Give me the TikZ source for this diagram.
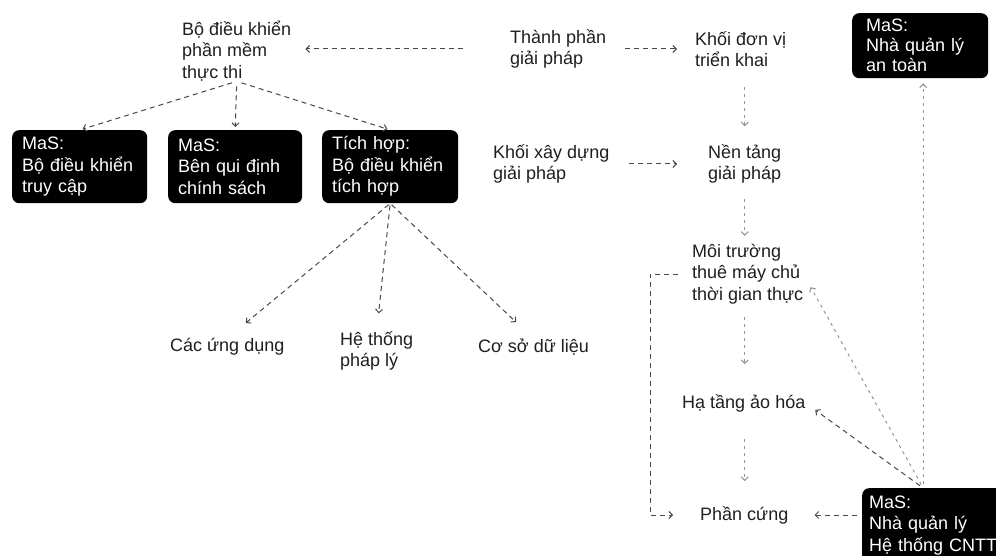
\documentclass[tikz,border=0pt]{standalone}
\usepackage{fontspec}
\setmainfont{Liberation Sans}
\usetikzlibrary{arrows.meta,calc}

\begin{document}
\begin{tikzpicture}[x=1pt,y=-1pt,
  every node/.style={font=\fontsize{18}{21.5}\selectfont},
  lbl/.style={anchor=west, inner sep=0pt, align=left, text=black!88},
  darkbox/.style={anchor=north west, fill=black, text=white, rounded corners=7pt,
    align=left, inner xsep=10pt, inner ysep=4pt, minimum height=73pt},
  link/.style={draw=black!72, line width=1pt, dash pattern=on 5pt off 4pt,
    -{Straight Barb[length=3.5pt,width=7pt]}},
  faint/.style={link, draw=black!42, dash pattern=on 3pt off 4pt}
]
% canvas
\fill[white] (0,0) rectangle (996,556);
\useasboundingbox (0,0) rectangle (996,556);

% dark component boxes
\node[darkbox, text width=115pt] (acc) at (12,130) {MaS:\\Bộ điều khiển\\truy cập};
\node[darkbox, text width=114pt] (pol) at (168,130) {MaS:\\Bên qui định\\chính sách};
\node[darkbox, text width=116pt] (int) at (322,130) {Tích hợp:\\Bộ điều khiển\\tích hợp};
\node[darkbox, text width=108pt, inner xsep=14pt, minimum height=65pt, inner ysep=1pt,
      font=\fontsize{18}{20}\selectfont] (sec) at (852,13) {MaS:\\Nhà quản lý\\an toàn};
\node[darkbox, text width=130pt, inner xsep=7pt, minimum height=74pt] (itm) at (862,488)
      {MaS:\\Nhà quản lý\\Hệ thống CNTT};

% plain labels
\node[lbl] (exec)  at (182,51)  {Bộ điều khiển\\phần mềm\\thực thi};
\node[lbl] (comp)  at (510,49)  {Thành phần\\giải pháp};
\node[lbl] (unit)  at (695,49)  {Khối đơn vị\\triển khai};
\node[lbl] (bblk)  at (493,164) {Khối xây dựng\\giải pháp};
\node[lbl] (plat)  at (708,164) {Nền tảng\\giải pháp};
\node[lbl] (host)  at (692,274) {Môi trường\\thuê máy chủ\\thời gian thực};
\node[lbl] (virt)  at (682,403) {Hạ tầng ảo hóa};
\node[lbl] (hw)    at (700,515) {Phần cứng};
\node[lbl] (apps)  at (170,347) {Các ứng dụng};
\node[lbl] (legal) at (340,351) {Hệ thống\\pháp lý};
\node[lbl] (db)    at (478,347) {Cơ sở dữ liệu};

% left tree
\draw[link, shorten <=47pt, shorten >=14pt] (comp.west) -- (comp.west -| exec.east);
\draw[link, shorten <=5pt, shorten >=3pt] (exec.south) -- (acc.north);
\draw[link, shorten <=5pt, shorten >=3pt] (exec.south) -- (pol.north);
\draw[link, shorten <=5pt, shorten >=3pt] (exec.south) -- (int.north);
\draw[link, shorten <=2pt, shorten >=24pt] (int.south) -- (apps.north);
\draw[link, shorten <=2pt, shorten >=18pt] (int.south) -- (legal.north);
\draw[link, shorten <=2pt, shorten >=24pt] (int.south) -- (db.north);

% solution chain
\draw[link, shorten <=19pt, shorten >=18pt] (comp.east) -- (comp.east -| unit.west);
\draw[link, shorten <=19pt, shorten >=31pt] (bblk.east) -- (bblk.east -| plat.west);
\draw[faint, shorten <=20pt, shorten >=18pt] (unit.south -| plat.north) -- (plat.north);
\draw[faint, shorten <=15pt, shorten >=8pt] (plat.south) -- (plat.south |- host.north);
\draw[faint, shorten <=13pt, shorten >=30pt] (plat.south |- host.south) -- (plat.south |- virt.north);
\draw[faint, shorten <=27pt, shorten >=25pt] (plat.south |- virt.south) -- (plat.south |- hw.north);
\draw[link, shorten <=14pt, shorten >=27pt] (host.west) -- ([xshift=-42pt]host.west) |- (hw.west);

% IT system manager links
\coordinate (hub) at ([xshift=-11pt]itm.north);
\draw[link, shorten <=5pt, shorten >=26pt] (hw.east -| itm.west) -- (hw.east);
\draw[link, shorten <=4pt, shorten >=12pt] (hub) -- (virt.east);
\draw[faint, shorten <=4pt, shorten >=15pt] (hub) -- (host.east);
\draw[faint, shorten <=4pt, shorten >=5pt] (hub) -- (hub |- sec.south);
\end{tikzpicture}
\end{document}
